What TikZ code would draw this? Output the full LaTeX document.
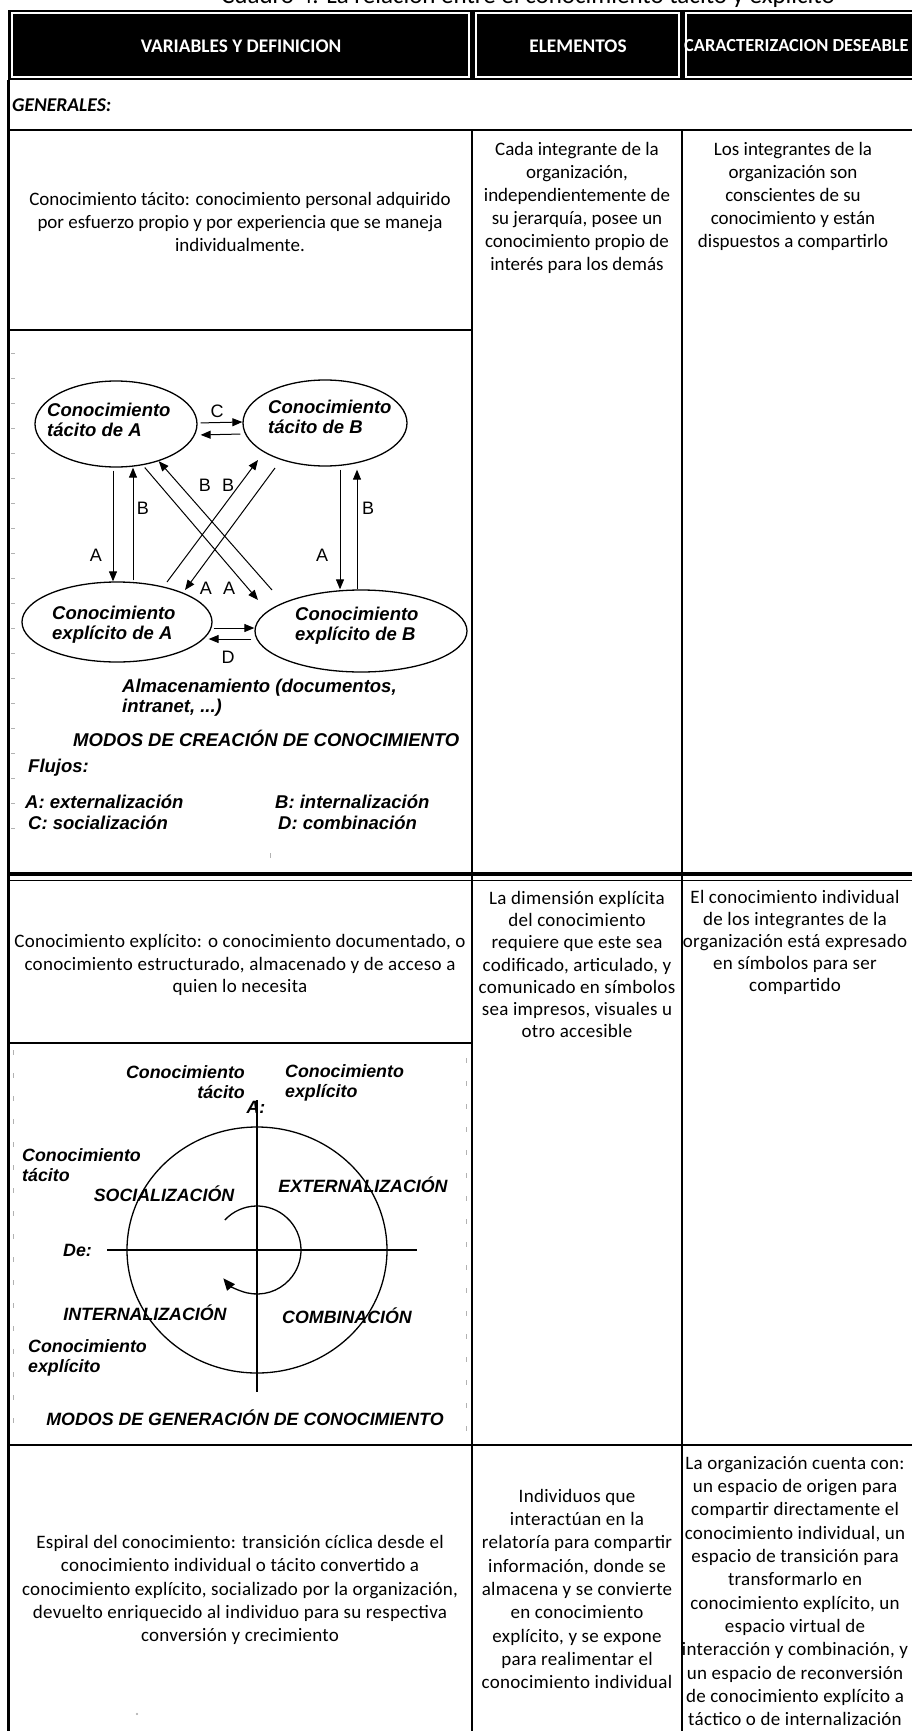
\documentclass[tikz,border=0pt]{standalone}
\usepackage{fontspec}
\setmainfont{Carlito}
\newfontfamily\cellfont{Carlito}
\newfontfamily\widefont[LetterSpace=1.5]{Carlito}
\newfontfamily\figfont{Liberation Sans}
\usetikzlibrary{shapes.geometric,arrows.meta}
\begin{document}
\begin{tikzpicture}[x=1pt,y=-1pt,
  rule/.style={line width=1.3pt},
  cellA/.style={align=center, inner sep=0pt, font=\cellfont\fontsize{19}{23}\selectfont},
  cellB/.style={align=center, inner sep=0pt, font=\widefont\fontsize{19}{22.2}\selectfont},
  cellC/.style={align=center, inner sep=0pt, font=\widefont\fontsize{19}{23.3}\selectfont},
  headtxt/.style={text=white, inner sep=0pt, font=\cellfont\bfseries\fontsize{19.3}{22}\selectfont},
  bubble/.style={ellipse, draw, line width=1.3pt, inner sep=0pt},
  bubtxt/.style={inner sep=0pt, align=left, font=\figfont\bfseries\itshape\fontsize{18.5}{20}\selectfont},
  gentxt/.style={inner sep=0pt, align=left, font=\figfont\bfseries\itshape\fontsize{17.8}{20}\selectfont},
  flowtag/.style={inner sep=0pt, font=\figfont\fontsize{18}{20}\selectfont},
  flow/.style={line width=1pt, -{Triangle[length=10pt,width=8pt]}},
  scanmark/.style={gray!60, line width=0.7pt}
]
\useasboundingbox (0,0) rectangle (912,1731);
\fill[white] (0,0) rectangle (912,1731);

% caption above the table (its upper part lies outside the page)
\node[anchor=base, inner sep=0pt, font=\cellfont\fontsize{25}{27}\selectfont] (title)
  at (528,4) {Cuadro 4. La relación entre el conocimiento tácito y explícito};

% ---------- header band ----------
\fill (8,10) rectangle (912,80);
\draw[white, line width=1.5pt] (12,13) rectangle (469,77);
\draw[white, line width=1.5pt] (476,13) rectangle (679,77);
\draw[white, line width=1.5pt] (686,13) rectangle (925,77);
\node[headtxt] (h1) at (241,46) {VARIABLES Y DEFINICION};
\node[headtxt] (h2) at (578,46) {ELEMENTOS};
\node[headtxt, anchor=west, font=\cellfont\bfseries\fontsize{18.4}{22}\selectfont] (h3)
  at (684,46) {CARACTERIZACION DESEABLE};

% ---------- table rules ----------
\draw[line width=3pt] (8,80) -- (8,1731);
\draw[line width=1.8pt] (8,130) -- (912,130);
\draw[rule] (472,130) -- (472,1731);
\draw[rule] (682,130) -- (682,1731);
\draw[line width=1.8pt] (8,330) -- (472,330);
\draw[line width=4pt] (8,874) -- (912,874);
\draw[line width=1.2pt] (8,880.5) -- (912,880.5);
\draw[rule] (8,1043) -- (472,1043);
\draw[line width=1.6pt] (8,1445) -- (912,1445);

\node[anchor=west, inner sep=0pt, font=\cellfont\bfseries\itshape\fontsize{19.5}{22}\selectfont]
  (gen) at (12,105) {GENERALES:};

% ---------- row 1 ----------
\node[cellA] (r1a) at (240,222) {Conocimiento tácito: conocimiento personal adquirido\\
  por esfuerzo propio y por experiencia que se maneja\\individualmente.};
\node[cellA] (r1b) at (577,208) {Cada integrante de la\\organización,\\independientemente de\\
  su jerarquía, posee un\\conocimiento propio de\\interés para los demás};
\node[cellA] (r1c) at (793,196) {Los integrantes de la\\organización son\\conscientes de su\\
  conocimiento y están\\dispuestos a compartirlo};

% ---------- knowledge creation modes ----------
\foreach \k in {0,...,19} \draw[scanmark] (11,353+25*\k) -- (15,353+25*\k);
\draw[scanmark] (270,853) -- (270,858);

\node[bubble, minimum width=162pt, minimum height=86pt] (tA) at (116,424) {};
\node[bubble, minimum width=164pt, minimum height=86pt] (tB) at (325,423) {};
\node[bubble, minimum width=190pt, minimum height=80pt] (eA) at (117,622) {};
\node[bubble, minimum width=212pt, minimum height=82pt] (eB) at (361,631) {};

\node[bubtxt, anchor=west] (tAt) at (47,420) {Conocimiento\\tácito de A};
\node[bubtxt, anchor=west] (tBt) at (268,417) {Conocimiento\\tácito de B};
\node[bubtxt, anchor=west] (eAt) at (52,625) {Conocimiento\\explícito de A};
\node[bubtxt, anchor=west] (eBt) at (295,626) {Conocimiento\\explícito de B};

% socialisation (C)
\draw[flow, shorten <=3pt] ([yshift=1pt]tA.east) -- ([yshift=1pt]tB.west);
\draw[flow, shorten <=2pt, shorten >=3pt] ([yshift=-11pt]tB.west) -- ([yshift=-11pt]tA.east);
% left pair
\draw[flow, shorten <=3pt] ([xshift=-3pt]tA.south) -- ([xshift=-4pt]eA.north);
\draw[flow, shorten <=1pt] ([xshift=16pt]eA.north) -- ([xshift=17pt]tA.south);
% right pair
\draw[flow, shorten <=3pt] ([xshift=15pt]tB.south) -- ([xshift=-21pt]eB.north);
\draw[flow, shorten >=3pt] ([xshift=-4pt]eB.north) -- ([xshift=32pt]tB.south);
% crossing flows
\coordinate (d1e) at (258,600);
\coordinate (d2s) at (272,590);
\coordinate (d3s) at (167,582);
\coordinate (d3e) at (258,460);
\coordinate (d4s) at (275,468);
\coordinate (d4e) at (185,590);
\draw[flow, shorten <=3pt] (tA.-57) -- (d1e);
\draw[flow] (d2s) -- (tA.-41);
\draw[flow] (d3s) -- (d3e);
\draw[flow] (d4s) -- (d4e);
% combination (D)
\draw[flow, shorten <=1pt] ([yshift=-6pt]eA.east) -- ([yshift=3pt]eB.west);
\draw[flow, shorten <=3pt, shorten >=-4pt] ([yshift=-8pt]eB.west) -- ([yshift=-17pt]eA.east);

\node[flowtag] (lC) at (217,411) {C};
\node[flowtag] (lD) at (228,657) {D};
\node[flowtag] (lB1) at (143,508) {B};
\node[flowtag] (lA1) at (96,555) {A};
\node[flowtag] (lB2) at (368,508) {B};
\node[flowtag] (lA2) at (322,555) {A};
\node[flowtag] (lB3) at (205,485) {B};
\node[flowtag] (lB4) at (228,485) {B};
\node[flowtag] (lA3) at (206,588) {A};
\node[flowtag] (lA4) at (229,588) {A};

\node[bubtxt, anchor=west] (store) at (122,698) {Almacenamiento (documentos,\\intranet, ...)};
\node[bubtxt, anchor=west] (cap1) at (73,738) {MODOS DE CREACIÓN DE CONOCIMIENTO};
\node[bubtxt, anchor=west] (fl) at (28,768) {Flujos:};
\node[bubtxt, anchor=west] (fA) at (25,802) {A: externalización};
\node[bubtxt, anchor=west] (fB) at (275,802) {B: internalización};
\node[bubtxt, anchor=west] (fC) at (28,823) {C: socialización};
\node[bubtxt, anchor=west] (fD) at (278,823) {D: combinación};

% ---------- row 2 ----------
\node[cellB] (r2a) at (240,965) {Conocimiento explícito: o conocimiento documentado, o\\
  conocimiento estructurado, almacenado y de acceso a\\quien lo necesita};
\node[cellB] (r2b) at (577,964.5) {La dimensión explícita\\del conocimiento\\requiere que este sea\\
  codificado, articulado, y\\comunicado en símbolos\\sea impresos, visuales u\\otro accesible};
\node[cellB] (r2c) at (795,942.5) {El conocimiento individual\\de los integrantes de la\\
  organización está expresado\\en símbolos para ser\\compartido};

% ---------- knowledge generation modes ----------
\foreach \k in {0,...,16} {
  \draw[scanmark] (13,1050+23*\k) -- (13,1055+23*\k);
  \draw[scanmark] (466,1058+23*\k) -- (466,1063+23*\k);
}
\coordinate (O) at (257,1250);
\node[ellipse, draw, line width=1.3pt, minimum width=260pt, minimum height=246pt, inner sep=0pt] (ring) at (O) {};
\coordinate (axW) at (107,1250);
\coordinate (axE) at (417,1250);
\coordinate (axN) at (257,1100);
\coordinate (axS) at (257,1392);
\draw[line width=1.6pt] (axW) -- (axE);
\draw[line width=1.3pt] (axN) -- (axS);
% clockwise spiral turn: open end upper left, head lower left
\draw[line width=1.3pt, -{Triangle[length=12pt,width=10pt]}]
  ([shift={(-137:44)}]O) arc[start angle=-137, end angle=140, radius=44];

\node[gentxt, anchor=east, align=right] (ktop) at (245,1082) {Conocimiento\\tácito};
\node[gentxt, anchor=west] (xtop) at (285,1083) {Conocimiento\\explícito};
\node[gentxt] (toA) at (256,1107) {A:};
\node[gentxt, anchor=west] (kleft) at (22,1165) {Conocimiento\\tácito};
\node[gentxt] (soc) at (164,1194) {SOCIALIZACIÓN};
\node[gentxt] (ext) at (363,1185) {EXTERNALIZACIÓN};
\node[gentxt, anchor=west] (fromDe) at (63,1250) {De:};
\node[gentxt] (intz) at (145,1313) {INTERNALIZACIÓN};
\node[gentxt] (comb) at (347,1316) {COMBINACIÓN};
\node[gentxt, anchor=west] (xleft) at (28,1358) {Conocimiento\\explícito};
\node[gentxt] (cap2) at (245,1418) {MODOS DE GENERACIÓN DE CONOCIMIENTO};

% ---------- row 3 ----------
\node[cellC] (r3a) at (240,1590) {Espiral del conocimiento: transición cíclica desde el\\
  conocimiento individual o tácito convertido a\\
  conocimiento explícito, socializado por la organización,\\
  devuelto enriquecido al individuo para su respectiva\\conversión y crecimiento};
\node[cellC] (r3b) at (577,1589) {Individuos que\\interactúan en la\\relatoría para compartir\\
  información, donde se\\almacena y se convierte\\en conocimiento\\explícito, y se expone\\
  para realimentar el\\conocimiento individual};
\node[cellC] (r3c) at (795,1591) {La organización cuenta con:\\un espacio de origen para\\
  compartir directamente el\\conocimiento individual, un\\espacio de transición para\\
  transformarlo en\\conocimiento explícito, un\\espacio virtual de\\
  interacción y combinación, y\\un espacio de reconversión\\de conocimiento explícito a\\
  táctico o de internalización};
\fill[gray!70] (137,1714) circle[radius=1.2];
\end{tikzpicture}
\end{document}
